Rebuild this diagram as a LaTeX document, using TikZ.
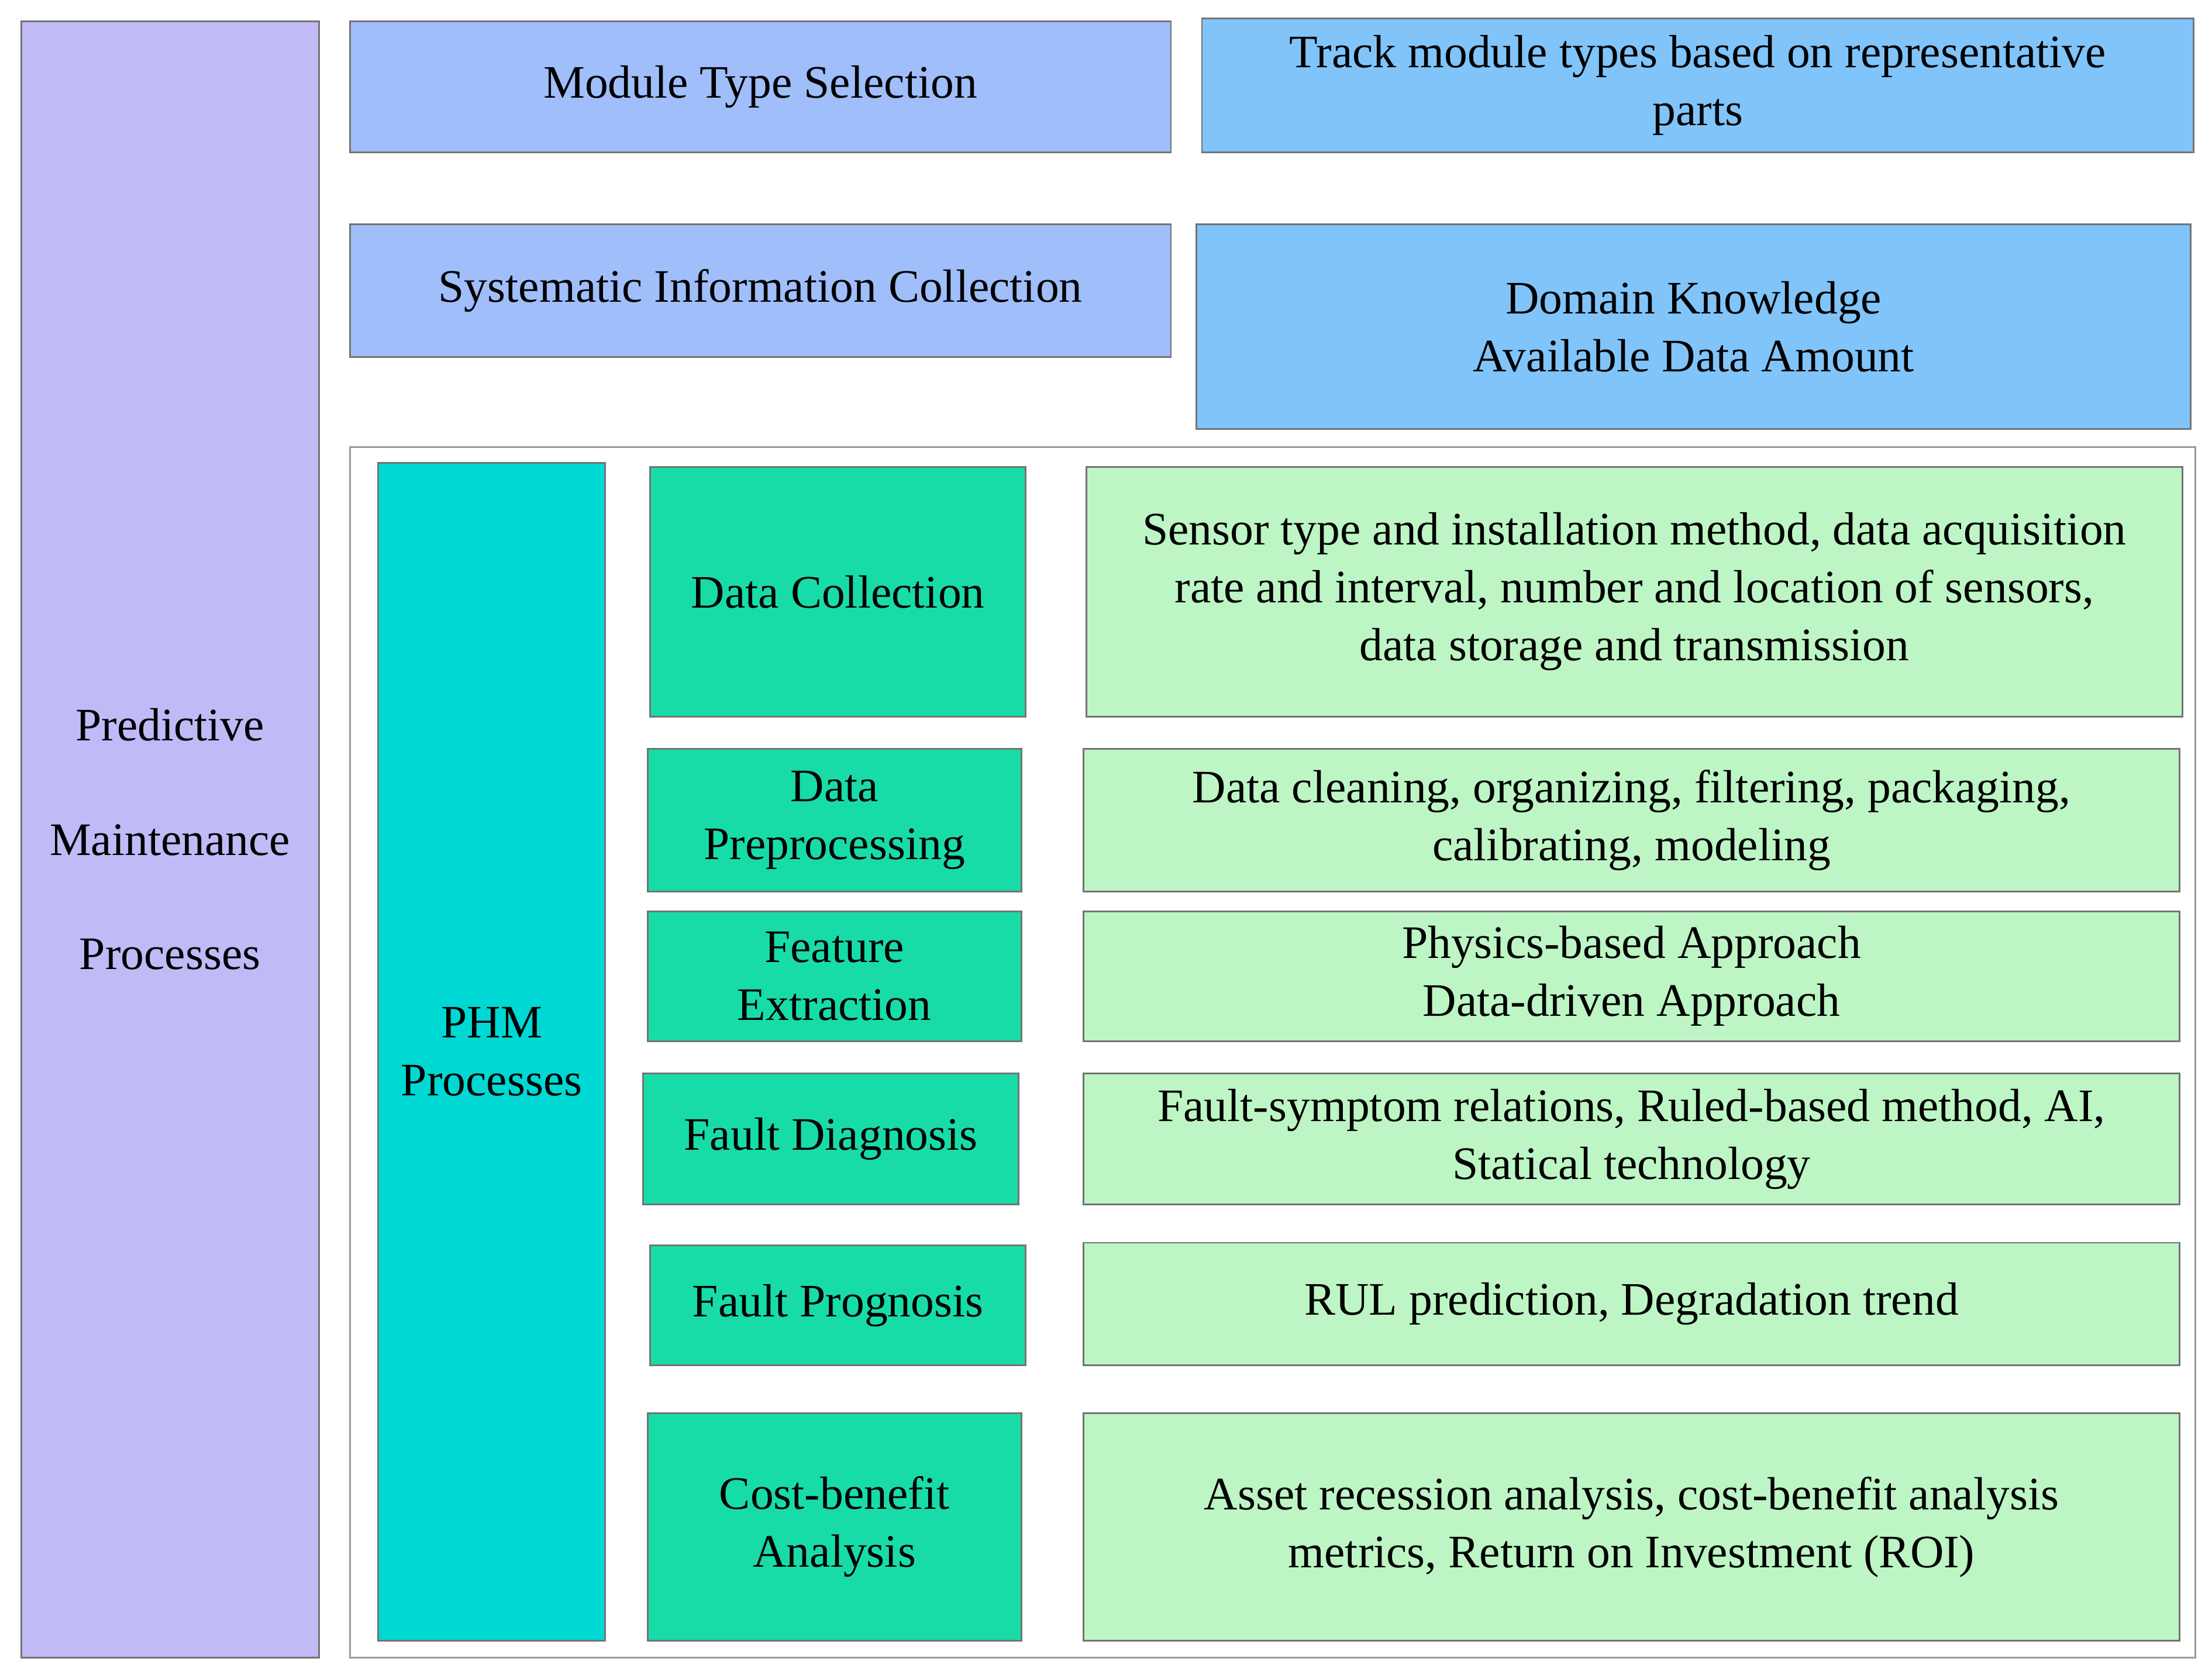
\documentclass[tikz,border=0pt]{standalone}
\usepackage{fontspec}
\setmainfont{Liberation Serif}
\begin{document}
\begin{tikzpicture}[x=1pt,y=-1pt,
  bx/.style={draw=black!55,line width=1.2pt,align=center,inner sep=0pt,
    font=\fontsize{33}{41}\selectfont},
  purple/.style={bx,fill={rgb,255:red,192;green,186;blue,246}},
  lblue/.style={bx,fill={rgb,255:red,160;green,190;blue,250}},
  sblue/.style={bx,fill={rgb,255:red,128;green,196;blue,250}},
  cyan/.style={bx,fill={rgb,255:red,0;green,216;blue,212}},
  teal/.style={bx,fill={rgb,255:red,24;green,220;blue,168}},
  lgreen/.style={bx,fill={rgb,255:red,189;green,245;blue,197}},
  frame/.style={draw=black!40,line width=1.2pt,fill=white}]
\useasboundingbox (0,0) rectangle (1568,1190);
\newcommand\bx[7]{\node[#6,minimum width={#4-#2},minimum height={#5-#3}] (#1) at ({(#2+#4)/2},{(#3+#5)/2}) {#7};}
\bx{pmp}{15}{15}{226}{1175}{purple}{Predictive\\[40pt]Maintenance\\[40pt]Processes}
\bx{mts}{248}{15}{830}{108}{lblue}{Module Type Selection}
\bx{tmt}{852}{13}{1555}{108}{sblue}{Track module types based on representative\\parts}
\bx{sic}{248}{159}{830}{253}{lblue}{Systematic Information Collection}
\bx{dk}{848}{159}{1553}{304}{sblue}{Domain Knowledge\\Available Data Amount}
\draw[frame] (248,317) rectangle (1556,1175);
\bx{phm}{268}{328}{429}{1163}{cyan}{PHM\\Processes}
\bx{dc}{461}{331}{727}{508}{teal}{Data Collection}
\bx{dcr}{770}{331}{1547}{508}{lgreen}{Sensor type and installation method, data acquisition\\rate and interval, number and location of sensors,\\data storage and transmission}
\bx{dp}{459}{531}{724}{632}{teal}{Data\\Preprocessing}
\bx{dpr}{768}{531}{1545}{632}{lgreen}{Data cleaning, organizing, filtering, packaging,\\calibrating, modeling}
\bx{fe}{459}{646}{724}{738}{teal}{Feature\\Extraction}
\bx{fer}{768}{646}{1545}{738}{lgreen}{Physics-based Approach\\Data-driven Approach}
\bx{fd}{456}{761}{722}{854}{teal}{Fault Diagnosis}
\bx{fdr}{768}{761}{1545}{854}{lgreen}{Fault-symptom relations, Ruled-based method, AI,\\Statical technology}
\bx{fp}{461}{883}{727}{968}{teal}{Fault Prognosis}
\bx{fpr}{768}{881}{1545}{968}{lgreen}{RUL prediction, Degradation trend}
\bx{cb}{459}{1002}{724}{1163}{teal}{Cost-benefit\\Analysis}
\bx{cbr}{768}{1002}{1545}{1163}{lgreen}{Asset recession analysis, cost-benefit analysis\\metrics, Return on Investment (ROI)}
\end{tikzpicture}
\end{document}
